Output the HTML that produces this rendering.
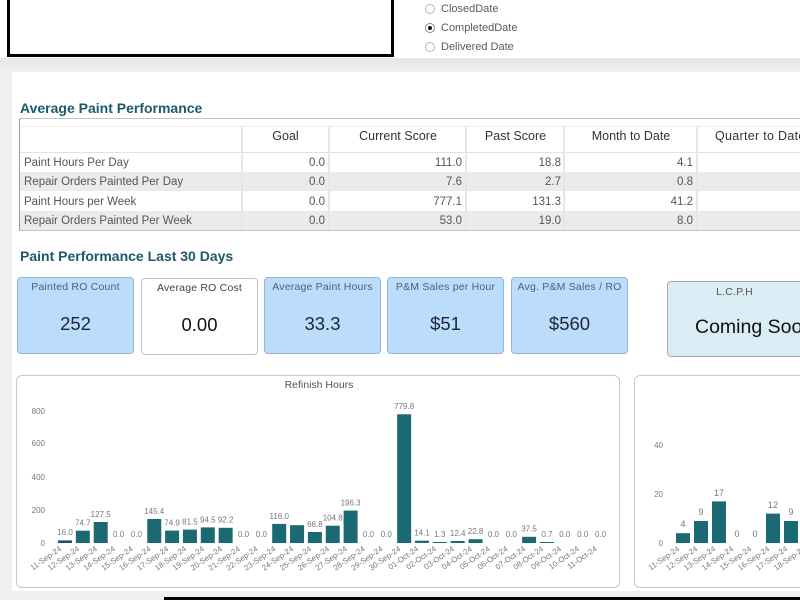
<!DOCTYPE html>
<html><head><meta charset="utf-8">
<style>
*{margin:0;padding:0;box-sizing:border-box}
html,body{width:800px;height:600px;overflow:hidden;background:#efefef;font-family:"Liberation Sans",sans-serif}
.a{position:absolute}
.top{left:0;top:0;width:800px;height:58px;background:#fff}
.band{left:0;top:58px;width:800px;height:14px;background:linear-gradient(#e6e6e6,#efefef)}
.blk{left:7px;top:-4px;width:387px;height:61px;border:3px solid #000;background:#fff}
.radio{left:425px;width:10px;height:10px;border:1px solid #b5b5b5;border-radius:50%;background:#fff}
.rl{left:441px;font-size:11px;color:#5a5a5a;line-height:12px}
.panel{left:12px;top:72px;width:788px;height:519px;background:#fff}
.h1{left:20px;font-size:14px;font-weight:bold;color:#1c5a6b;line-height:16px}
.tbl{left:19px;top:118px;width:800px;height:113px;border-left:1px solid #9a9a9a;border-top:1px solid #c4c4c4;border-bottom:2px solid #c4c4c4}
.grow{left:20px;width:780px;height:19px;background:#ebebeb}
.vs{width:2px;background:#e6e6e6}
.th{font-size:12.5px;color:#333;line-height:14px;top:129px;white-space:nowrap}
.td{font-size:11.5px;color:#555;line-height:14px}
.lab{left:24px}
.card{border-radius:4px;text-align:center}
.blue{background:#bcdcfb;border:1px solid #93b5da}
.ct{font-size:10.5px;color:#4c6079;line-height:12px;margin-top:3px;letter-spacing:0.2px}
.cv{font-size:18.5px;color:#1b2638;line-height:22px;position:absolute;left:0;right:0;top:35px}
.cp{border:1px solid #c9c9c9;border-radius:6px;background:#fff}
</style></head><body>
<div class="a top"></div>
<div class="a band"></div>
<div class="a blk"></div>
<div class="a radio" style="top:4px"></div>
<div class="a rl" style="top:3px">ClosedDate</div>
<div class="a radio" style="top:23px;border-color:#888"><div style="position:absolute;left:2px;top:2px;width:4px;height:4px;border-radius:50%;background:#111"></div></div>
<div class="a rl" style="top:22px">CompletedDate</div>
<div class="a radio" style="top:42px"></div>
<div class="a rl" style="top:41px">Delivered Date</div>

<div class="a panel"></div>
<div class="a h1" style="top:100px">Average Paint Performance</div>

<div class="a tbl"></div>
<div class="a" style="left:20px;top:126px;width:780px;height:1px;background:#ececec"></div>
<div class="a" style="left:20px;top:152px;width:780px;height:1px;background:#e2e2e2"></div>
<div class="a grow" style="top:172px"></div>
<div class="a grow" style="top:211px"></div>
<div class="a vs" style="left:241px;top:127px;height:103px"></div>
<div class="a vs" style="left:328px;top:127px;height:103px"></div>
<div class="a vs" style="left:465px;top:127px;height:103px"></div>
<div class="a vs" style="left:563px;top:127px;height:103px"></div>
<div class="a vs" style="left:696px;top:127px;height:103px"></div>

<div class="a th" style="left:242px;width:87px;text-align:center">Goal</div>
<div class="a th" style="left:330px;width:136px;text-align:center">Current Score</div>
<div class="a th" style="left:467px;width:97px;text-align:center">Past Score</div>
<div class="a th" style="left:565px;width:132px;text-align:center">Month to Date</div>
<div class="a th" style="left:715px;letter-spacing:0.3px">Quarter to Date</div>

<div class="a td lab" style="top:156px">Paint Hours Per Day</div>
<div class="a td lab" style="top:175px">Repair Orders Painted Per Day</div>
<div class="a td lab" style="top:195px">Paint Hours per Week</div>
<div class="a td lab" style="top:214px">Repair Orders Painted Per Week</div>

<div class="a td" style="top:156px;right:475px">0.0</div>
<div class="a td" style="top:175px;right:475px">0.0</div>
<div class="a td" style="top:195px;right:475px">0.0</div>
<div class="a td" style="top:214px;right:475px">0.0</div>

<div class="a td" style="top:156px;right:338px">111.0</div>
<div class="a td" style="top:175px;right:338px">7.6</div>
<div class="a td" style="top:195px;right:338px">777.1</div>
<div class="a td" style="top:214px;right:338px">53.0</div>

<div class="a td" style="top:156px;right:239px">18.8</div>
<div class="a td" style="top:175px;right:239px">2.7</div>
<div class="a td" style="top:195px;right:239px">131.3</div>
<div class="a td" style="top:214px;right:239px">19.0</div>

<div class="a td" style="top:156px;right:107px">4.1</div>
<div class="a td" style="top:175px;right:107px">0.8</div>
<div class="a td" style="top:195px;right:107px">41.2</div>
<div class="a td" style="top:214px;right:107px">8.0</div>

<div class="a h1" style="top:248px">Paint Performance Last 30 Days</div>

<div class="a card blue" style="left:17px;top:277px;width:117px;height:77px"><div class="ct">Painted RO Count</div><div class="cv">252</div></div>
<div class="a card" style="left:141px;top:278px;width:117px;height:77px;background:#fff;border:1px solid #c4c4c4"><div class="ct" style="color:#444">Average RO Cost</div><div class="cv" style="color:#111">0.00</div></div>
<div class="a card blue" style="left:264px;top:277px;width:117px;height:77px"><div class="ct">Average Paint Hours</div><div class="cv">33.3</div></div>
<div class="a card blue" style="left:387px;top:277px;width:117px;height:77px"><div class="ct">P&amp;M Sales per Hour</div><div class="cv">$51</div></div>
<div class="a card blue" style="left:511px;top:277px;width:117px;height:77px"><div class="ct">Avg. P&amp;M Sales / RO</div><div class="cv">$560</div></div>
<div class="a card" style="left:667px;top:281px;width:150px;height:76px;background:#dbedf4;border:1px solid #a9a9a9;text-align:left">
<div class="ct" style="color:#555;position:absolute;left:0;width:133px;text-align:center;top:4px;margin:0">L.C.P.H</div>
<div style="position:absolute;left:27px;top:34px;font-size:19.5px;color:#111;white-space:nowrap;line-height:22px">Coming Soon</div></div>

<div class="a cp" style="left:16px;top:375px;width:604px;height:213px"></div>
<div class="a cp" style="left:634px;top:375px;width:200px;height:213px"></div>

<div class="a" style="left:164px;top:597px;width:636px;height:3px;background:#000"></div>

<svg class="a" style="left:0;top:0" width="800" height="600" xmlns="http://www.w3.org/2000/svg" font-family="Liberation Sans, sans-serif">
<text x="319" y="388" font-size="10.5" fill="#555" text-anchor="middle">Refinish Hours</text>
<g font-size="8" fill="#777" text-anchor="end">
<text x="45" y="414">800</text><text x="45" y="446">600</text><text x="45" y="480">400</text><text x="45" y="513">200</text><text x="45" y="546">0</text>
</g>
<g fill="#1b6a73">
<rect x="58" y="540.4" width="14" height="2.6" fill="#244f6c"/>
<rect x="75.85" y="530.7" width="14" height="12.3"/>
<rect x="93.7" y="522" width="14" height="21"/>
<rect x="147.25" y="519" width="14" height="24"/>
<rect x="165.1" y="530.6" width="14" height="12.4"/>
<rect x="182.95" y="529.6" width="14" height="13.4"/>
<rect x="200.8" y="527.4" width="14" height="15.6"/>
<rect x="218.65" y="527.8" width="14" height="15.2"/>
<rect x="272.2" y="523.9" width="14" height="19.1"/>
<rect x="290.05" y="525.2" width="14" height="17.8"/>
<rect x="307.9" y="532" width="14" height="11"/>
<rect x="325.75" y="525.7" width="14" height="17.3"/>
<rect x="343.6" y="510.6" width="14" height="32.4"/>
<rect x="397.15" y="414.3" width="14" height="128.7"/>
<rect x="415" y="540.7" width="14" height="2.3"/>
<rect x="432.85" y="542" width="14" height="1"/>
<rect x="450.7" y="541" width="14" height="2"/>
<rect x="468.55" y="539.2" width="14" height="3.8"/>
<rect x="522.1" y="536.8" width="14" height="6.2"/>
<rect x="539.95" y="542" width="14" height="1"/>
</g>
<g font-size="8" fill="#777" text-anchor="middle">
<text x="65" y="535">16.0</text>
<text x="82.85" y="525.5">74.7</text>
<text x="100.7" y="517">127.5</text>
<text x="118.55" y="537">0.0</text>
<text x="136.4" y="537">0.0</text>
<text x="154.25" y="514">145.4</text>
<text x="172.1" y="525.5">74.9</text>
<text x="189.95" y="524.5">81.5</text>
<text x="207.8" y="522.5">94.5</text>
<text x="225.65" y="522.5">92.2</text>
<text x="243.5" y="537">0.0</text>
<text x="261.35" y="537">0.0</text>
<text x="279.2" y="519">116.0</text>
<text x="314.9" y="527">66.8</text>
<text x="332.75" y="520.5">104.8</text>
<text x="350.6" y="505.5">196.3</text>
<text x="368.45" y="537">0.0</text>
<text x="386.3" y="537">0.0</text>
<text x="404.15" y="409">779.8</text>
<text x="422" y="535.5">14.1</text>
<text x="439.85" y="537">1.3</text>
<text x="457.7" y="536">12.4</text>
<text x="475.55" y="534">22.8</text>
<text x="493.4" y="537">0.0</text>
<text x="511.25" y="537">0.0</text>
<text x="529.1" y="531.5">37.5</text>
<text x="546.95" y="537">0.7</text>
<text x="564.8" y="537">0.0</text>
<text x="582.65" y="537">0.0</text>
<text x="600.5" y="537">0.0</text>
</g>
<g font-size="7.8" fill="#777" text-anchor="end">
<text transform="translate(62,550) rotate(-35)">11-Sep-24</text>
<text transform="translate(79.85,550) rotate(-35)">12-Sep-24</text>
<text transform="translate(97.7,550) rotate(-35)">13-Sep-24</text>
<text transform="translate(115.55,550) rotate(-35)">14-Sep-24</text>
<text transform="translate(133.4,550) rotate(-35)">15-Sep-24</text>
<text transform="translate(151.25,550) rotate(-35)">16-Sep-24</text>
<text transform="translate(169.1,550) rotate(-35)">17-Sep-24</text>
<text transform="translate(186.95,550) rotate(-35)">18-Sep-24</text>
<text transform="translate(204.8,550) rotate(-35)">19-Sep-24</text>
<text transform="translate(222.65,550) rotate(-35)">20-Sep-24</text>
<text transform="translate(240.5,550) rotate(-35)">21-Sep-24</text>
<text transform="translate(258.35,550) rotate(-35)">22-Sep-24</text>
<text transform="translate(276.2,550) rotate(-35)">23-Sep-24</text>
<text transform="translate(294.05,550) rotate(-35)">24-Sep-24</text>
<text transform="translate(311.9,550) rotate(-35)">25-Sep-24</text>
<text transform="translate(329.75,550) rotate(-35)">26-Sep-24</text>
<text transform="translate(347.6,550) rotate(-35)">27-Sep-24</text>
<text transform="translate(365.45,550) rotate(-35)">28-Sep-24</text>
<text transform="translate(383.3,550) rotate(-35)">29-Sep-24</text>
<text transform="translate(401.15,550) rotate(-35)">30-Sep-24</text>
<text transform="translate(419,550) rotate(-35)">01-Oct-24</text>
<text transform="translate(436.85,550) rotate(-35)">02-Oct-24</text>
<text transform="translate(454.7,550) rotate(-35)">03-Oct-24</text>
<text transform="translate(472.55,550) rotate(-35)">04-Oct-24</text>
<text transform="translate(490.4,550) rotate(-35)">05-Oct-24</text>
<text transform="translate(508.25,550) rotate(-35)">06-Oct-24</text>
<text transform="translate(526.1,550) rotate(-35)">07-Oct-24</text>
<text transform="translate(543.95,550) rotate(-35)">08-Oct-24</text>
<text transform="translate(561.8,550) rotate(-35)">09-Oct-24</text>
<text transform="translate(579.65,550) rotate(-35)">10-Oct-24</text>
<text transform="translate(597.5,550) rotate(-35)">11-Oct-24</text>
</g>

<g font-size="8" fill="#777" text-anchor="end">
<text x="663" y="448">40</text><text x="663" y="497">20</text><text x="663" y="546">0</text>
</g>
<g fill="#1b6a73">
<rect x="676" y="533.2" width="14" height="9.8"/>
<rect x="694" y="521" width="14" height="22"/>
<rect x="712" y="501.4" width="14" height="41.6"/>
<rect x="766" y="513.6" width="14" height="29.4"/>
<rect x="784" y="521" width="14" height="22"/>
</g>
<g font-size="9" fill="#777" text-anchor="middle">
<text x="683" y="527">4</text>
<text x="701" y="515">9</text>
<text x="719" y="496">17</text>
<text x="737" y="537">0</text>
<text x="755" y="537">0</text>
<text x="773" y="508">12</text>
<text x="791" y="515">9</text>
</g>
<g font-size="7.8" fill="#777" text-anchor="end">
<text transform="translate(680,550) rotate(-35)">11-Sep-24</text>
<text transform="translate(698,550) rotate(-35)">12-Sep-24</text>
<text transform="translate(716,550) rotate(-35)">13-Sep-24</text>
<text transform="translate(734,550) rotate(-35)">14-Sep-24</text>
<text transform="translate(752,550) rotate(-35)">15-Sep-24</text>
<text transform="translate(770,550) rotate(-35)">16-Sep-24</text>
<text transform="translate(788,550) rotate(-35)">17-Sep-24</text>
<text transform="translate(806,550) rotate(-35)">18-Sep-24</text>
</g>
</svg>
</body></html>
